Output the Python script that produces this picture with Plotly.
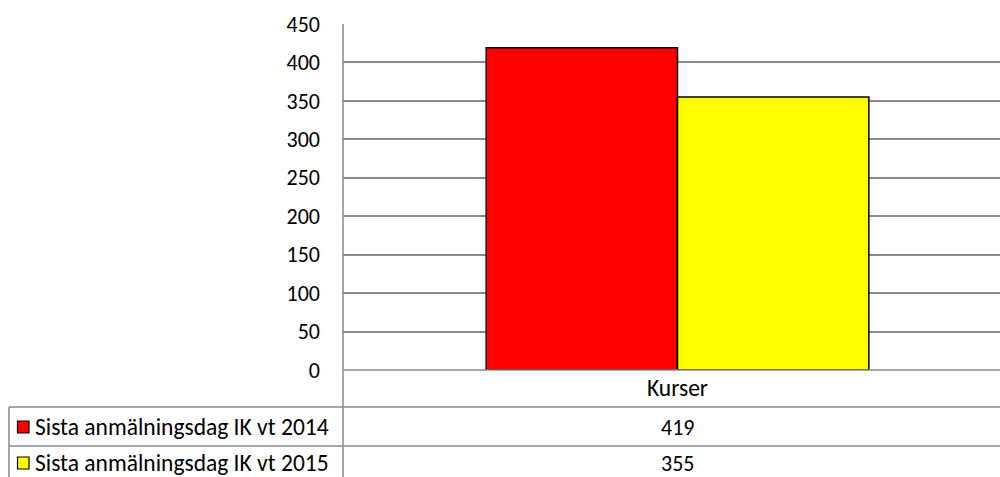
import plotly.graph_objects as go

categories = ["Kurser"]
series_names = ["Sista anmälningsdag IK vt 2014", "Sista anmälningsdag IK vt 2015"]
values_2014 = [419]
values_2015 = [355]
colors = ["#FF0000", "#FFFF00"]
y_ticks = [0, 50, 100, 150, 200, 250, 300, 350, 400, 450]

W, H = 1000, 477
FONT = "Carlito, Calibri, Lato, sans-serif"
FS_NUM = 22
FS_TXT = 23.5
GRID = "#8a8a8a"

def px(x):
    return x / W

def py(y):
    return (H - y) / H

fig = go.Figure()
for name, vals, col in zip(series_names, [values_2014, values_2015], colors):
    fig.add_trace(go.Bar(x=categories, y=vals, name=name,
                         marker=dict(color=col, line=dict(color="black", width=1.5))))

fig.update_layout(
    template="none",
    width=W, height=H,
    margin=dict(l=0, r=0, t=0, b=0, pad=0),
    plot_bgcolor="white", paper_bgcolor="white",
    showlegend=False,
    barmode="group", bargap=0.428, bargroupgap=0,
    font=dict(family=FONT, size=FS_NUM, color="black"),
    xaxis=dict(domain=[px(343), 1], range=[-0.5, 0.482], showgrid=False, automargin=False,
               showline=False, zeroline=False, ticks="", showticklabels=False),
    yaxis=dict(domain=[py(370), py(24)], range=[0, 450], tickvals=y_ticks, automargin=False,
               showgrid=True, gridcolor=GRID, gridwidth=1.5, zeroline=False,
               showline=False, ticks="", ticklabelstandoff=22,
               tickfont=dict(size=FS_NUM)),
)

shapes = []
line = dict(color=GRID, width=1.5)
shapes.append(dict(type="line", xref="paper", yref="paper", x0=px(343), x1=px(343), y0=py(24), y1=0, line=line, layer="above"))
shapes.append(dict(type="line", xref="paper", yref="paper", x0=px(343), x1=1, y0=py(370), y1=py(370), line=line, layer="above"))
for yy in [407, 446]:
    shapes.append(dict(type="line", xref="paper", yref="paper", x0=px(9), x1=1, y0=py(yy), y1=py(yy), line=line))
shapes.append(dict(type="line", xref="paper", yref="paper", x0=px(9), x1=px(9), y0=py(407), y1=0, line=line))

annotations = []
annotations.append(dict(x=categories[0], y=py(388), xref="x", yref="paper", text=categories[0], showarrow=False,
                        xanchor="center", yanchor="middle", font=dict(size=FS_TXT)))
row_centers = [427, 463]
for name, vals, col, yc in zip(series_names, [values_2014, values_2015], colors, row_centers):
    shapes.append(dict(type="rect", xref="paper", yref="paper", x0=px(17.5), x1=px(29), y0=py(yc + 6), y1=py(yc - 6),
                       fillcolor=col, line=dict(color="black", width=1.2)))
    annotations.append(dict(x=px(34), y=py(yc), xref="paper", yref="paper", text=name, showarrow=False,
                            xanchor="left", yanchor="middle", borderpad=0, font=dict(size=FS_TXT)))
    annotations.append(dict(x=categories[0], y=py(yc), xref="x", yref="paper", text=str(vals[0]), showarrow=False,
                            xanchor="center", yanchor="middle", borderpad=0, font=dict(size=FS_NUM)))

fig.update_layout(shapes=shapes, annotations=annotations)
fig.write_html("out.html", config={"displayModeBar": False},
               post_script="document.body.style.margin='0';document.body.style.overflow='hidden';")
